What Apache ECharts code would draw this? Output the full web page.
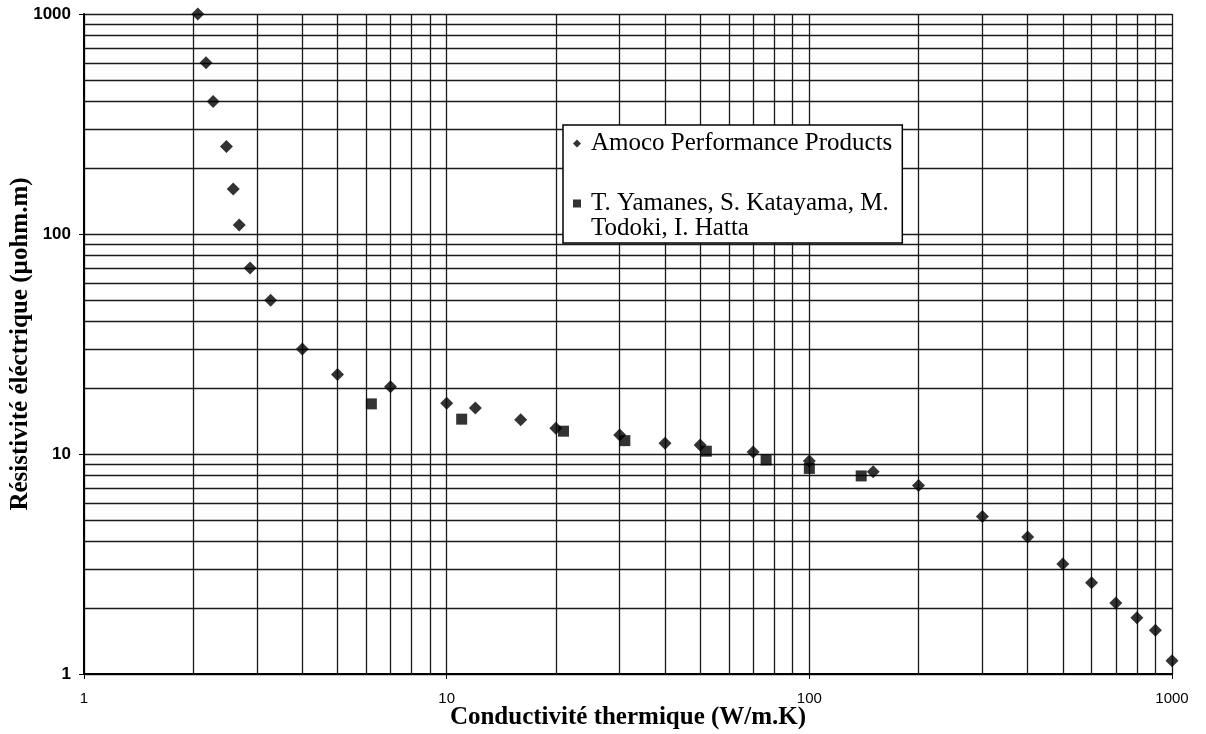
<!DOCTYPE html>
<html>
<head>
<meta charset="utf-8">
<script src="https://cdn.jsdelivr.net/npm/echarts@6/dist/echarts.min.js"></script>
<style>html,body{margin:0;padding:0;background:#fff;}#c{width:1206px;height:734px;}</style>
</head>
<body>
<div id="c"></div>
<script>
// ---- data ----
const amocoName = 'Amoco Performance Products';
const yamName = 'T. Yamanes, S. Katayama, M. Todoki, I. Hatta';
const yamLegendText = 'T. Yamanes, S. Katayama, M.\nTodoki, I. Hatta';
const amocoX = [2.06, 2.17, 2.27, 2.47, 2.58, 2.68, 2.87, 3.27, 4, 5, 7, 10, 12, 16, 20, 30, 40, 50, 70, 100, 150, 200, 300, 400, 500, 600, 700, 800, 900, 1000];
const amocoY = [1000, 600, 400, 250, 160, 110, 70, 50, 30, 23, 20.2, 17, 16.2, 14.3, 13.1, 12.2, 11.2, 11, 10.2, 9.3, 8.3, 7.2, 5.2, 4.2, 3.16, 2.6, 2.1, 1.8, 1.58, 1.15];
const yamX = [6.2, 11, 21, 31, 52, 76, 100, 139];
const yamY = [16.9, 14.4, 12.7, 11.5, 10.3, 9.4, 8.6, 7.95];
const minorGridX = [2,3,4,5,6,7,8,9,20,30,40,50,60,70,80,90,200,300,400,500,600,700,800,900];
const minorGridY = [2,3,4,5,6,7,8,9,20,30,40,50,60,70,80,90,200,300,400,500,600,700,800,900];
const xTitle = 'Conductivité thermique (W/m.K)';
const yTitle = 'Résistivité éléctrique (µohm.m)';

const chart = echarts.init(document.getElementById('c'), null, {renderer: 'canvas'});
const gridLineStyle = {color: '#1a1a1a', width: 1.3, type: 'solid'};
const gridMarks = minorGridX.map(v => ({xAxis: v})).concat(minorGridY.map(v => ({yAxis: v})));
const plainNum = v => String(Math.round(v));

chart.setOption({
  backgroundColor: '#fff',
  animation: false,
  grid: {left: 84, right: 34, top: 14, bottom: 60, containLabel: false, outerBoundsMode: 'none'},
  xAxis: {
    type: 'log', logBase: 10, min: 1, max: 1000,
    name: xTitle, nameLocation: 'middle', nameGap: 31, nameMoveOverlap: false,
    nameTextStyle: {fontFamily: 'Liberation Serif', fontWeight: 'bold', fontSize: 25, color: '#000'},
    axisLine: {show: true, lineStyle: {color: '#000', width: 2}},
    axisTick: {show: true, length: 5, lineStyle: {color: '#000'}},
    axisLabel: {fontFamily: "'Liberation Sans Narrow', 'Liberation Sans', sans-serif", fontSize: 15, color: '#000', margin: 17, formatter: plainNum},
    splitLine: {show: true, lineStyle: gridLineStyle}
  },
  yAxis: {
    type: 'log', logBase: 10, min: 1, max: 1000,
    name: yTitle, nameLocation: 'middle', nameGap: 51, nameRotate: 90, nameMoveOverlap: false,
    nameTextStyle: {fontFamily: 'Liberation Serif', fontWeight: 'bold', fontSize: 25, color: '#000'},
    axisLine: {show: true, lineStyle: {color: '#000', width: 2}},
    axisTick: {show: true, length: 5, lineStyle: {color: '#000'}},
    axisLabel: {fontFamily: "'Liberation Sans', sans-serif", fontWeight: 'bold', fontSize: 17, color: '#000', margin: 13, formatter: plainNum},
    splitLine: {show: true, lineStyle: gridLineStyle}
  },
  legend: {
    orient: 'vertical', left: 563, top: 125, z: 20,
    backgroundColor: '#fff', borderColor: '#000', borderWidth: 1.5,
    padding: [6, 10, 2, 10], itemGap: 10, itemWidth: 8, itemHeight: 8,
    data: [amocoName, yamName],
    formatter: function (n) { return n === yamName ? '\n' + yamLegendText : n; },
    textStyle: {fontFamily: 'Liberation Serif', fontSize: 25, lineHeight: 25, color: '#000', padding: [0, 0, 0, 5]}
  },
  series: [
    {
      type: 'line', data: [], silent: true, z: 1,
      markLine: {silent: true, symbol: 'none', label: {show: false}, lineStyle: gridLineStyle, animation: false, data: gridMarks}
    },
    {
      name: amocoName, type: 'scatter', symbol: 'diamond', symbolSize: 13, z: 5,
      itemStyle: {color: '#000'},
      data: amocoX.map((x, i) => [x, amocoY[i]])
    },
    {
      name: yamName, type: 'scatter', symbol: 'rect', symbolSize: 11, z: 5,
      itemStyle: {color: '#000'},
      data: yamX.map((x, i) => [x, yamY[i]])
    }
  ]
});
</script>
</body>
</html>
